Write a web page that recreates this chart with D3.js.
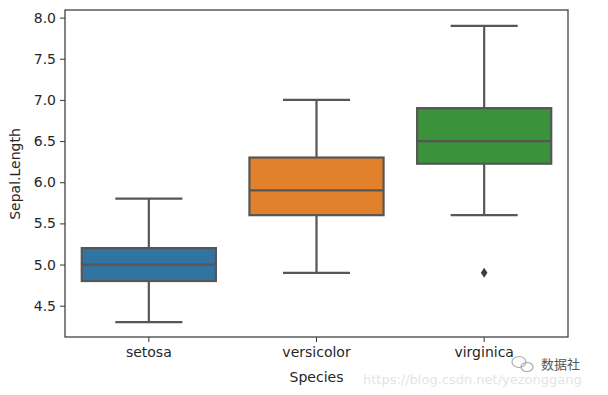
<!DOCTYPE html>
<html>
<head>
<meta charset="utf-8">
<script src="https://cdn.jsdelivr.net/npm/d3@7"></script>
<style>
  body { margin: 0; background: #fff; }
  text { font-family: "DejaVu Sans", sans-serif; }
</style>
</head>
<body>
<div id="chart"></div>
<script>
// box stats (iris Sepal.Length)
var species = ['setosa', 'versicolor', 'virginica'];
var q1 = [4.8, 5.6, 6.225];
var median = [5.0, 5.9, 6.5];
var q3 = [5.2, 6.3, 6.9];
var whiskerLow = [4.3, 4.9, 5.6];
var whiskerHigh = [5.8, 7.0, 7.9];
var outliers = [[], [], [4.9]];
var colors = ['#3274a1', '#e1812c', '#3a923a'];
var yTicks = [4.5, 5.0, 5.5, 6.0, 6.5, 7.0, 7.5, 8.0];

var width = 608, height = 395;
var mLeft = 65, mRight = 568, mTop = 11, mBottom = 337;
var lineColor = '#565656';

var svg = d3.select('#chart')
    .append('svg')
    .attr('width', width + 'px')
    .attr('height', height + 'px');

var xScale = d3.scaleBand()
    .domain(species)
    .range([mLeft, mRight])
    .paddingInner(0.2)
    .paddingOuter(0.1);

var yScale = d3.scaleLinear()
    .domain([4.12, 8.08])
    .range([mBottom, mTop]);

var data = species.map(function(s, i){
    return {name: s, q1: q1[i], med: median[i], q3: q3[i],
            lo: whiskerLow[i], hi: whiskerHigh[i], out: outliers[i], color: colors[i]};
});

var bw = xScale.bandwidth();

var g = svg.selectAll('.box')
    .data(data)
    .enter()
    .append('g')
    .attr('class', 'box');

function cx(d){ return xScale(d.name) + bw / 2; }

// whiskers
g.append('line')
    .attr('x1', cx).attr('x2', cx)
    .attr('y1', function(d){ return yScale(d.hi); })
    .attr('y2', function(d){ return yScale(d.q3); })
    .attr('stroke', lineColor).attr('stroke-width', 2.2);
g.append('line')
    .attr('x1', cx).attr('x2', cx)
    .attr('y1', function(d){ return yScale(d.q1); })
    .attr('y2', function(d){ return yScale(d.lo); })
    .attr('stroke', lineColor).attr('stroke-width', 2.2);

// caps
['hi', 'lo'].forEach(function(k){
    g.append('line')
        .attr('x1', function(d){ return cx(d) - bw / 4; })
        .attr('x2', function(d){ return cx(d) + bw / 4; })
        .attr('y1', function(d){ return yScale(d[k]); })
        .attr('y2', function(d){ return yScale(d[k]); })
        .attr('stroke', lineColor).attr('stroke-width', 2.2);
});

// boxes
g.append('rect')
    .attr('x', function(d){ return xScale(d.name); })
    .attr('width', bw)
    .attr('y', function(d){ return yScale(d.q3); })
    .attr('height', function(d){ return yScale(d.q1) - yScale(d.q3); })
    .attr('fill', function(d){ return d.color; })
    .attr('stroke', lineColor).attr('stroke-width', 2.2);

// medians
g.append('line')
    .attr('x1', function(d){ return xScale(d.name); })
    .attr('x2', function(d){ return xScale(d.name) + bw; })
    .attr('y1', function(d){ return yScale(d.med); })
    .attr('y2', function(d){ return yScale(d.med); })
    .attr('stroke', lineColor).attr('stroke-width', 2.2);

// outliers (diamonds)
g.each(function(d){
    d3.select(this).selectAll('.flier')
        .data(d.out)
        .enter()
        .append('path')
        .attr('class', 'flier')
        .attr('transform', function(v){ return 'translate(' + cx(d) + ',' + yScale(v) + ')'; })
        .attr('d', 'M0,-5L3.3,0L0,5L-3.3,0Z')
        .attr('fill', '#3d3d3d');
});

// axes
var yAxis = svg.append('g')
    .attr('transform', 'translate(' + mLeft + ',0)')
    .call(d3.axisLeft(yScale).tickValues(yTicks).tickFormat(d3.format('.1f')).tickSize(5).tickPadding(4));
var xAxis = svg.append('g')
    .attr('transform', 'translate(0,' + mBottom + ')')
    .call(d3.axisBottom(xScale).tickSize(5).tickPadding(5));

[yAxis, xAxis].forEach(function(a){
    a.select('.domain').remove();
    a.selectAll('line').attr('stroke', '#333').attr('stroke-width', 1);
    a.selectAll('text').style('font-size', '14px').attr('fill', '#262626')
        .style('font-family', '"DejaVu Sans", sans-serif');
});

// frame
svg.append('rect')
    .attr('x', mLeft).attr('y', mTop - 1)
    .attr('width', mRight - mLeft).attr('height', mBottom - mTop + 1)
    .attr('fill', 'none').attr('stroke', '#333').attr('stroke-width', 1.2);

// axis labels
svg.append('text')
    .attr('x', (mLeft + mRight) / 2).attr('y', 382)
    .attr('text-anchor', 'middle')
    .style('font-size', '14px').attr('fill', '#262626')
    .text('Species');

svg.append('text')
    .attr('transform', 'translate(20,' + ((mTop + mBottom) / 2) + ') rotate(-90)')
    .attr('text-anchor', 'middle')
    .style('font-size', '14px').attr('fill', '#262626')
    .text('Sepal.Length');

// watermark
svg.append('text')
    .attr('x', 363).attr('y', 384)
    .style('font-size', '13px').attr('fill', '#e4e4e4')
    .text('https://blog.csdn.net/yezonggang');

svg.append('text')
    .attr('x', 541).attr('y', 369)
    .style('font-size', '13px').attr('fill', '#555')
    .style('font-family', '"Noto Sans CJK SC", sans-serif')
    .text('数据社');

var icon = svg.append('g').attr('transform', 'translate(522,364)')
    .attr('fill', 'none').attr('stroke', '#aaa').attr('stroke-width', 1.2);
icon.append('ellipse').attr('cx', -3).attr('cy', -2).attr('rx', 7).attr('ry', 5.5);
icon.append('ellipse').attr('cx', 5).attr('cy', 3).attr('rx', 6).attr('ry', 4.5);
</script>
</body>
</html>
